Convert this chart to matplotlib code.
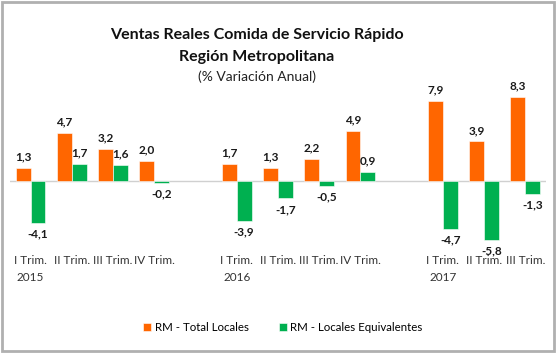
import matplotlib
matplotlib.use('Agg')
import matplotlib.pyplot as plt
import numpy as np
from matplotlib.patches import Rectangle

plt.rcParams['font.family'] = ['Lato', 'DejaVu Sans']

# categories (blank slots separate the years)
categories = ['I Trim.\n2015', 'II Trim.', 'III Trim.', 'IV Trim.', '',
              'I Trim.\n2016', 'II Trim.', 'III Trim.', 'IV Trim.', '',
              'I Trim.\n2017', 'II Trim.', 'III Trim.']
total_locales = [1.3, 4.7, 3.2, 2.0, None, 1.7, 1.3, 2.2, 4.9, None, 7.9, 3.9, 8.3]
locales_equiv = [-4.1, 1.7, 1.6, -0.2, None, -3.9, -1.7, -0.5, 0.9, None, -4.7, -5.8, -1.3]

orange = '#FF6600'
green = '#00B050'


def fmt(v):
    return ('%.1f' % v).replace('.', ',')


fig = plt.figure(figsize=(5.57, 3.53), dpi=100)
ax = fig.add_axes([0.018, 0.300, 0.962, 0.446])

x = np.arange(len(categories))
w = 0.36
series = [(total_locales, orange, -w / 2, 'RM - Total Locales'),
          (locales_equiv, green, w / 2, 'RM - Locales Equivalentes')]

handles = []
for vals, col, off, name in series:
    xs = [xi + off for xi, v in zip(x, vals) if v is not None]
    vs = [v for v in vals if v is not None]
    bars = ax.bar(xs, vs, width=w, color=col, edgecolor='white', linewidth=0.4, label=name, zorder=2)
    handles.append(bars)
    for xi, v in zip(xs, vs):
        if v >= 0:
            ax.annotate(fmt(v), (xi, v), xytext=(0, 4), textcoords='offset points',
                        ha='center', va='bottom', fontsize=8.5, fontweight='bold', color='#1a1a1a')
        else:
            ax.annotate(fmt(v), (xi, v), xytext=(0, -4), textcoords='offset points',
                        ha='center', va='top', fontsize=8.5, fontweight='bold', color='#1a1a1a')

ax.axhline(0, color='#D0D0D0', linewidth=1, zorder=1)
ax.set_xlim(-0.5, len(categories) - 0.5)
ax.set_ylim(-6.5, 9)
ax.set_xticks(x)
ax.set_xticklabels(categories, fontsize=8.5, color='#333333', linespacing=1.6)
ax.tick_params(axis='x', length=0, pad=6)
ax.set_yticks([])
for s in ax.spines.values():
    s.set_visible(False)
ax.patch.set_alpha(0)

fig.text(0.461, 0.901, 'Ventas Reales Comida de Servicio Rápido', ha='center', va='center',
         fontsize=11.5, fontweight='bold', color='#111111')
fig.text(0.461, 0.839, 'Región Metropolitana', ha='center', va='center',
         fontsize=11.5, fontweight='bold', color='#111111')
fig.text(0.461, 0.782, '(% Variación Anual)', ha='center', va='center',
         fontsize=10, color='#222222')

fig.legend(handles=handles, loc='center', bbox_to_anchor=(0.508, 0.071), ncol=2,
           frameon=False, fontsize=8.3, handlelength=0.7, handleheight=0.7,
           handletextpad=0.3, columnspacing=2.6)

fig.patches.append(Rectangle((0.004, 0.006), 0.99, 0.988, transform=fig.transFigure,
                             fill=False, edgecolor='#B0B0B0', linewidth=2))

fig.savefig('out.png', dpi=100)
